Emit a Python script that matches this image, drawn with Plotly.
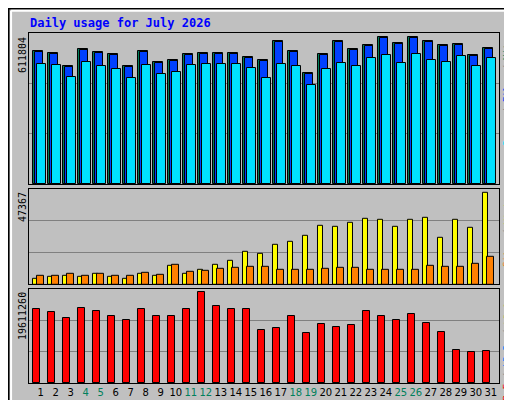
import plotly.graph_objects as go

days = list(range(1, 32))
weekend = [4, 5, 11, 12, 18, 19, 25, 26]

hits = [553500, 545200, 491100, 561900, 549400, 541000, 491100, 553500, 507800, 516100,
        541000, 545200, 545200, 545200, 528600, 516100, 595200, 553500, 462000, 541000,
        595200, 561900, 578500, 611800, 586800, 611804, 595200, 578500, 582700, 536900, 566000]
files = [552000, 543800, 489700, 560500, 545200, 539600, 487000, 549400, 506400, 514700,
         539600, 543800, 543800, 543800, 524400, 512000, 591000, 552000, 460600, 536900,
         593800, 560500, 577100, 610400, 582700, 610400, 593800, 577100, 581300, 535500, 561900]
pages = [499400, 495300, 445300, 507800, 491100, 478600, 441200, 495300, 457800, 466100,
         495300, 499400, 499400, 499400, 482800, 441200, 499400, 491100, 412000, 478600,
         503600, 491100, 524400, 536900, 503600, 541000, 516100, 507800, 532700, 491100, 524400]
visits = [3090, 4120, 4630, 4120, 5660, 4120, 3090, 5660, 4630, 9780,
          5660, 7720, 10300, 12350, 16990, 15960, 20590, 22140, 25230, 30370,
          29860, 31920, 33980, 33460, 29860, 33460, 34490, 24200, 33460, 29340, 47367]
sites = [4630, 4630, 5660, 4630, 5660, 4630, 4630, 6180, 5150, 10300,
         6690, 7210, 8240, 8750, 9270, 9270, 7720, 7720, 7720, 8240,
         8750, 8750, 7720, 7720, 7720, 7720, 9780, 9270, 9270, 10810, 14410]
kbytes = [15950000, 15300000, 14010000, 16160000, 15520000, 14440000, 13580000, 15950000, 14440000, 14440000,
          15950000, 19611260, 16590000, 15950000, 15950000, 11420000, 11850000, 14440000, 10780000, 12710000,
          12070000, 12500000, 15520000, 14440000, 13580000, 14870000, 12930000, 10990000, 7110000, 6680000, 6900000]

legend_top = [("Hits", "#00805c"), (" / ", "#808080"), ("Files", "#0040ff"), (" / ", "#808080"), ("Pages", "#00e0ff")]
legend_mid = [("Visits", "#ffff00"), (" / ", "#808080"), ("Sites", "#ff8000")]
legend_bot = [("kB Out", "#00c000"), (" / ", "#808080"), ("kB In", "#0080ff"), (" / ", "#808080"), ("kB F", "#ff0000")]

BG = "#c0c0c0"
line = dict(color="black", width=1)
fig = go.Figure()

def bars(y, color, off, w, yax):
    fig.add_trace(go.Bar(x=days, y=y, offset=off, width=w, marker=dict(color=color, line=line),
                         xaxis="x" if yax == "y" else "x" + yax[1:], yaxis=yax, showlegend=False))

bars(hits, "#00805c", 0.0, 0.65, "y")
bars(files, "#0040ff", 0.13, 0.54, "y")
bars(pages, "#00e0ff", 0.27, 0.56, "y")
bars(visits, "#ffff00", 0.0, 0.33, "y2")
bars(sites, "#ff8000", 0.27, 0.47, "y2")
bars(kbytes, "#ff0000", 0.0, 0.47, "y3")

xr = [0.713, 32.047]
ticktext = ['<span style="color:%s">%d</span>' % ("#00805c" if d in weekend else "black", d) for d in days]
ax = dict(range=xr, showgrid=False, zeroline=False, showline=True, linecolor="black", mirror=True,
          fixedrange=True, domain=[0.041, 0.959])
fig.update_layout(
    xaxis=dict(ax, showticklabels=False, anchor="y"),
    xaxis2=dict(ax, showticklabels=False, anchor="y2"),
    xaxis3=dict(ax, anchor="y3", tickvals=[d + 0.5 for d in days], ticktext=ticktext, ticks="",
                tickangle=0, tickfont=dict(family="DejaVu Sans", size=10)),
)
for name, top, dom in [("yaxis", 629800, [0.56, 0.9375]), ("yaxis2", 49250, [0.309, 0.548]),
                       ("yaxis3", 20330000, [0.062, 0.2975])]:
    fig.layout[name] = dict(range=[0, top], domain=dom, tickvals=[top / 3, 2 * top / 3], showticklabels=False,
                            ticks="", gridcolor="#808080", gridwidth=1, zeroline=False, showline=True,
                            linecolor="black", mirror=True, anchor="x" if name == "yaxis" else "x" + name[-1])

anns = [
    dict(text="<b>Daily usage for July 2026</b>", x=20 / 512, y=1 - 15 / 400, xanchor="left", yanchor="middle",
         font=dict(family="DejaVu Sans Mono", size=12, color="#0000ff")),
]
for txt, ytop in [("611804", 27), ("47367", 182), ("19611260", 282)]:
    anns.append(dict(text=txt, x=14 / 512, y=1 - ytop / 400, textangle=-90, xanchor="center", yanchor="top",
                     font=dict(family="DejaVu Sans Mono", size=10, color="black")))
for pieces, ytop in [(legend_top, 28), (legend_mid, 182), (legend_bot, 282)]:
    ypos = ytop
    for txt, col in pieces:
        anns.append(dict(text=txt.replace(" ", "&nbsp;"), x=499 / 512, y=1 - ypos / 400, textangle=-90,
                         xanchor="center", yanchor="top",
                         font=dict(family="DejaVu Sans Mono", size=9, color=col)))
        ypos += len(txt) * 5.4
for a in anns:
    a.update(xref="paper", yref="paper", showarrow=False)

fig.update_layout(
    width=512, height=400, margin=dict(l=0, r=0, t=0, b=0), paper_bgcolor=BG, plot_bgcolor=BG,
    barmode="overlay", bargap=0, annotations=anns,
    shapes=[
        dict(type="rect", xref="paper", yref="paper", x0=0.001, y0=0.001, x1=0.999, y1=0.999,
             line=dict(color="black", width=2)),
        dict(type="line", xref="paper", yref="paper", x0=0.006, y0=0.993, x1=0.992, y1=0.993, line=dict(color="white", width=2)),
        dict(type="line", xref="paper", yref="paper", x0=0.006, y0=0.993, x1=0.006, y1=0.01, line=dict(color="white", width=2)),
        dict(type="line", xref="paper", yref="paper", x0=0.992, y0=0.993, x1=0.992, y1=0.01, line=dict(color="#808080", width=2)),
        dict(type="line", xref="paper", yref="paper", x0=0.006, y0=0.01, x1=0.992, y1=0.01, line=dict(color="#808080", width=2)),
    ],
)

fig.write_html("out.html")
